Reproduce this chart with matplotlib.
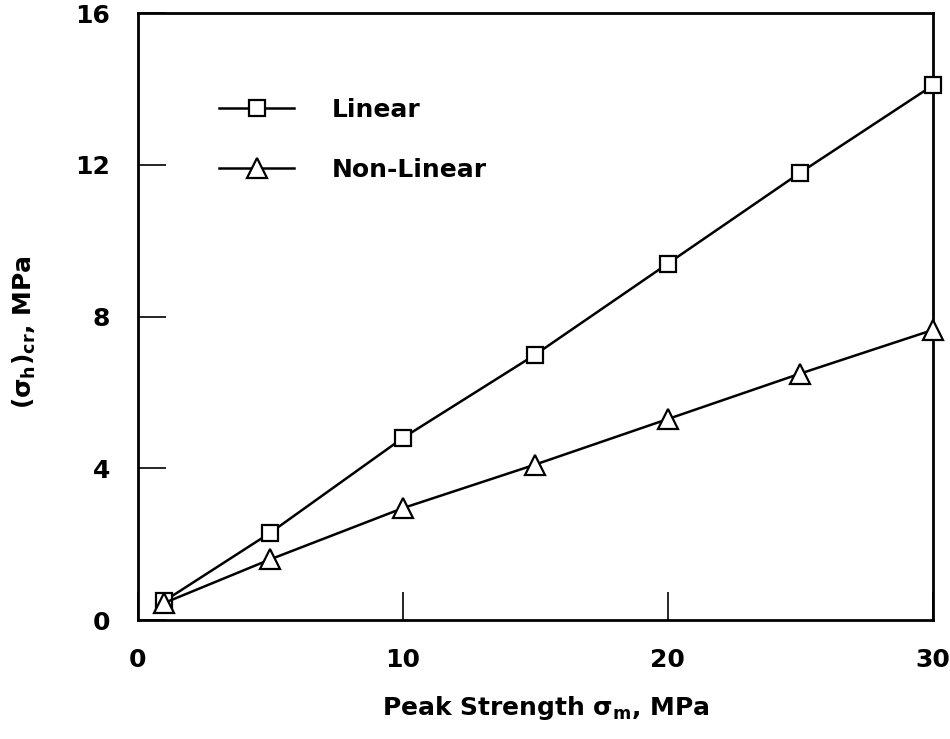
import numpy as np
import matplotlib
matplotlib.use("Agg")
from matplotlib import pyplot as plt

plt.rcParams['font.family'] = ['DejaVu Sans']
plt.rcParams['font.weight'] = 'bold'
plt.rcParams['axes.labelweight'] = 'bold'
plt.rcParams['mathtext.fontset'] = 'custom'
plt.rcParams['mathtext.rm'] = 'DejaVu Sans:bold'
plt.rcParams['mathtext.it'] = 'DejaVu Sans:bold'
plt.rcParams['mathtext.bf'] = 'DejaVu Sans:bold'

# peak strength (MPa)
peak_strength = [1, 5, 10, 15, 20, 25, 30]
# critical stress, linear and non-linear models
linear = [0.5, 2.3, 4.8, 7.0, 9.4, 11.8, 14.1]
non_linear = [0.45, 1.6, 2.95, 4.1, 5.3, 6.5, 7.65]

x_ticks = [0, 10, 20, 30]
y_ticks = [0, 4, 8, 12, 16]

FS = 18

fig = plt.figure(figsize=(9.5, 7.39), dpi=100)
ax = fig.add_axes([0.145, 0.161, 0.837, 0.821])

ax.plot(peak_strength, linear, color='black', lw=1.8, marker='s', ms=12,
        mfc='white', mec='black', mew=1.6, label='Linear', clip_on=False, zorder=3)
ax.plot(peak_strength, non_linear, color='black', lw=1.8, marker='^', ms=14,
        mfc='white', mec='black', mew=1.6, label='Non-Linear', clip_on=False, zorder=3)

ax.set_xlim(0, 30)
ax.set_ylim(0, 16)
ax.set_xticks(x_ticks)
ax.set_yticks(y_ticks)
ax.tick_params(direction='in', length=20, width=1.2, labelsize=FS, pad=20,
               top=False, right=False)
for s in ax.spines.values():
    s.set_linewidth(2)

ax.set_xlabel(r'Peak Strength $\sigma_{\rm m}$, MPa', fontsize=FS)
ax.set_ylabel(r'$(\sigma_{\rm h})_{\rm cr}$, MPa', fontsize=FS)
ax.xaxis.set_label_coords(0.513, -0.122)
ax.yaxis.set_label_coords(-0.125, 0.474)

leg = ax.legend(loc='upper left', bbox_to_anchor=(0.074, 0.898), frameon=False,
                fontsize=FS, handlelength=3.0, handletextpad=1.5, labelspacing=1.45)

fig.savefig('out.png', dpi=100)
